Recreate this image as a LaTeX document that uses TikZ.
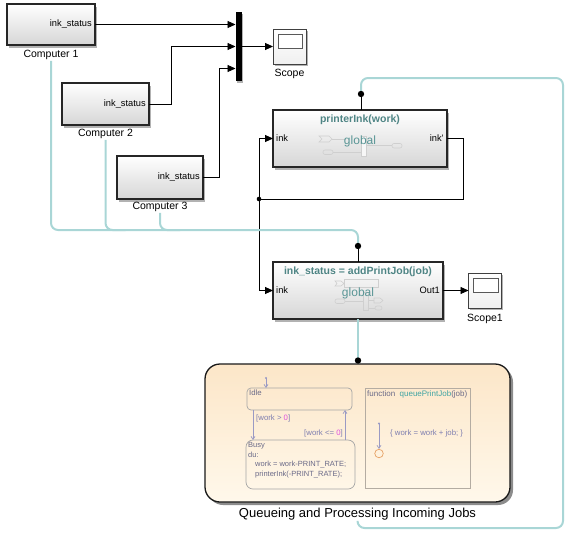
\documentclass[tikz,border=0pt]{standalone}
\usepackage{fontspec}
\setmainfont{Liberation Sans}
\usetikzlibrary{calc,shadows,arrows.meta}
\definecolor{tealline}{HTML}{A9D6D6}
\definecolor{titleteal}{HTML}{4F8585}
\definecolor{globteal}{HTML}{5A9696}
\definecolor{deco}{HTML}{CFCFCF}
\definecolor{stxt}{HTML}{6A6A88}
\definecolor{trlab}{HTML}{7E7EB0}
\definecolor{trans}{HTML}{9A9AC4}
\definecolor{magzero}{HTML}{E050E0}
\definecolor{stborder}{HTML}{A6A6A6}
\definecolor{fnborder}{HTML}{B4ACA2}
\definecolor{chtop}{HTML}{FCE6C8}
\definecolor{chbot}{HTML}{FFF8EB}
\definecolor{fnteal}{HTML}{3FA3A3}
\definecolor{juncol}{HTML}{E6A064}
\begin{document}
\begin{tikzpicture}[x=1pt,y=-1pt,
  block/.style={draw=black!85, line width=1.2pt, top color=white, bottom color=black!16,
    inner sep=0pt, outer sep=0pt,
    drop shadow={shadow xshift=2pt, shadow yshift=-2.5pt, opacity=0.3, fill=black}},
  scopebox/.style={draw=black!75, line width=0.8pt, top color=white, bottom color=black!6,
    inner sep=0pt, outer sep=0pt, minimum width=33pt, minimum height=35pt,
    drop shadow={shadow xshift=1.5pt, shadow yshift=-1.5pt, opacity=0.3, fill=black}},
  plab/.style={font=\fontsize{9.3}{11}\selectfont, inner sep=1pt},
  caplab/.style={font=\fontsize{10.5}{12}\selectfont, inner sep=1pt},
  ttl/.style={font=\fontsize{10.5}{12}\selectfont\bfseries, text=titleteal, inner sep=1pt},
  glob/.style={font=\fontsize{12}{14}\selectfont, text=globteal, inner sep=1pt},
  wire/.style={draw=black, line width=0.9pt},
  sig/.style={wire, -{Triangle[length=8pt,width=7pt]}},
  tl/.style={draw=tealline, line width=2pt, rounded corners=7pt},
  dotc/.style={fill=black},
  st/.style={draw=stborder, line width=0.7pt, inner sep=0pt, outer sep=0pt},
  stext/.style={font=\fontsize{7.8}{10}\selectfont, text=stxt, inner sep=1pt},
  trtext/.style={font=\fontsize{7.8}{10}\selectfont, text=trlab, inner sep=1pt},
  trarrow/.style={draw=trans, line width=0.7pt, -{Straight Barb[length=3pt,width=4pt]}},
  decol/.style={draw=deco, line width=0.6pt}
]
\useasboundingbox (0,0) rectangle (569,536);

% ---------------- computers
\node[block, minimum width=88pt, minimum height=41pt] (comp1) at (51,24.5) {};
\node[plab, anchor=east] (c1out) at ($(comp1.east)+(-2,0)$) {ink\_status};
\node[caplab] (c1lab) at (51,55) {Computer 1};
\node[block, minimum width=87pt, minimum height=42pt] (comp2) at (105.5,104) {};
\node[plab, anchor=east] (c2out) at ($(comp2.east)+(-2,0)$) {ink\_status};
\node[caplab] (c2lab) at (105.5,134) {Computer 2};
\node[block, minimum width=86pt, minimum height=43pt] (comp3) at (160,177.5) {};
\node[plab, anchor=east] (c3out) at ($(comp3.east)+(-2,0)$) {ink\_status};
\node[caplab] (c3lab) at (160,207) {Computer 3};

% ---------------- mux and scope
\node[fill=black, minimum width=6pt, minimum height=69pt, inner sep=0pt, outer sep=0pt,
  drop shadow={shadow xshift=1.5pt, shadow yshift=-1.5pt, opacity=0.3, fill=black}] (mux) at (238.5,46.5) {};
\coordinate (min1) at ($(mux.west)+(0,-22)$);
\coordinate (min3) at ($(mux.west)+(0,22)$);
\node[scopebox] (scope) at (289.5,46.5) {};
\draw[black!65, line width=1pt, fill=white] ($(scope.center)+(-11.5,-12.5)$) rectangle ($(scope.center)+(12.5,1.5)$);
\node[caplab] (scopelab) at (289.5,74) {Scope};

\draw[sig] (comp1.east) -- (comp1.east -| mux.west);
\draw[sig] (comp2.east) -- ++(22,0) |- (mux.west);
\draw[sig] (comp3.east) -- ++(16,0) |- (min3);
\draw[sig] (mux.east) -- (scope.west);

% ---------------- printerInk block
\node[block, minimum width=174pt, minimum height=57pt] (printer) at (360,138.5) {};
\begin{scope}
\draw[decol] (319,136) -- (329,136) -- (332,139) -- (329,142) -- (319,142) -- (322,139) -- cycle;
\draw[decol] (332,139) -- (346,139);
\draw[decol, fill=white!97!black] (361,136) rectangle (366,156);
\draw[decol, rounded corners=2pt] (323,150) rectangle (333,154.5);
\draw[decol] (333,152) -- (361,152);
\draw[decol] (366,145.5) -- (392,145.5);
\draw[decol, rounded corners=2pt] (392,143.5) rectangle (402,148);
\end{scope}
\node[ttl] (ptitle) at (360,120) {printerInk(work)};
\node[glob] (pglob) at (360,141) {global};
\node[plab, anchor=west] (pin) at ($(printer.west)+(2,0)$) {ink};
\node[plab, anchor=east] (pout) at ($(printer.east)+(-2,0)$) {ink'};

% ---------------- addPrintJob block
\node[block, minimum width=170pt, minimum height=57pt] (addjob) at (358,290.5) {};
\begin{scope}
\draw[decol] (335,281) -- (341,281) -- (344,283.5) -- (341,286) -- (335,286) -- (337,283.5) -- cycle;
\draw[decol] (344,279) rectangle (378,287);
\draw[decol, rounded corners=2pt] (335,299) rectangle (345,303.5);
\draw[decol] (345,301) -- (363,301);
\draw[decol] (363,292) rectangle (368,310);
\draw[decol] (368,300) -- (374,300);
\draw[decol] (374,298) -- (380,298) -- (383,300.5) -- (380,303) -- (374,303) -- cycle;
\draw[decol] (368,308) -- (375,308);
\draw[decol, rounded corners=2pt] (375,306) rectangle (382,310);
\end{scope}
\node[ttl] (atitle) at (358,272) {ink\_status = addPrintJob(job)};
\node[glob] (aglob) at (358,293.5) {global};
\node[plab, anchor=west] (ain) at ($(addjob.west)+(2,0)$) {ink};
\node[plab, anchor=east] (aout) at ($(addjob.east)+(-2,0)$) {Out1};

\node[scopebox] (scope1) at (485,290.5) {};
\draw[black!65, line width=1pt, fill=white] ($(scope1.center)+(-12,-12.5)$) rectangle ($(scope1.center)+(13,1.5)$);
\node[caplab] (scope1lab) at (485,319) {Scope1};
\draw[sig] (addjob.east) -- (scope1.west);

% ---------------- feedback wiring
\coordinate (fj) at (259,199);
\draw[wire] (printer.east) -- ++(16,0) |- (fj);
\draw[sig] (fj) |- (printer.west);
\draw[sig] (fj) |- (addjob.west);
\fill[dotc] (fj) circle (2.3pt);

% ---------------- chart
\node[draw=black!90, line width=1.3pt, rounded corners=15pt, top color=chtop, bottom color=chbot,
  minimum width=305pt, minimum height=138pt, inner sep=0pt, outer sep=0pt,
  drop shadow={shadow xshift=3pt, shadow yshift=-3pt, opacity=0.45, fill=black}] (chart) at (357.5,433) {};
\node[font=\fontsize{13}{15}\selectfont, inner sep=1pt] (qlab) at (357.5,514) {Queueing and Processing Incoming Jobs};

% states
\node[st, rounded corners=4pt, minimum width=105pt, minimum height=22pt] (idle) at (299.5,399) {};
\node[stext, anchor=north west] (idletxt) at ($(idle.north west)+(1,0.5)$) {Idle};
\node[st, rounded corners=7pt, minimum width=109pt, minimum height=49pt] (busy) at (300.5,464.5) {};
\node[stext, anchor=north west, align=left, font=\fontsize{7.5}{9.8}\selectfont] (busytxt) at ($(busy.north west)+(1,1)$)
  {Busy\\du:\\\hspace*{7pt}work = work-PRINT\_RATE;\\\hspace*{7pt}printerInk(-PRINT\_RATE);};

\coordinate (d1) at (266,378);
\fill[trans] (d1) circle (1.2pt);
\draw[trarrow] (d1) -- (d1 |- idle.north);
\coordinate (t1) at ($(idle.south west)+(6,0)$);
\draw[trarrow] (t1) -- (t1 |- busy.north);
\coordinate (t2) at ($(busy.north east)+(-10,0)$);
\draw[trarrow] (t2) -- (t2 |- idle.south);
\node[trtext, anchor=west] (g1) at (255,418) {[work > \textcolor{magzero}{0}]};
\node[trtext, anchor=east] (g2) at (344,433.5) {[work <= \textcolor{magzero}{0}]};

% graphical function
\node[draw=fnborder, line width=0.7pt, minimum width=105pt, minimum height=100pt, inner sep=0pt, outer sep=0pt] (fbox) at (417.5,438) {};
\node[stext, anchor=north west, font=\fontsize{8}{10}\selectfont] (ftitle) at ($(fbox.north west)+(1,1)$)
  {function\ \ \textcolor{fnteal}{queuePrintJob}(job)};
\node[circle, draw=juncol, line width=0.7pt, minimum size=8.5pt, inner sep=0pt] (jn) at (379,453.5) {};
\coordinate (d2) at (379,423.5);
\fill[trans] (d2) circle (1.2pt);
\draw[trarrow] (d2) -- (jn.north);
\node[trtext, anchor=west] (fact) at (389,433) {\{ work = work + job; \}};

% ---------------- teal connections
\coordinate (tbus) at (0,230);
\coordinate (adot) at ($(addjob.north)+(0,-16)$);
\coordinate (pdot) at ($(printer.north)+(1,-16)$);
\coordinate (cdot) at ($(chart.north)+(0.5,-3.5)$);
\coordinate (tr) at (563,78);
\coordinate (br) at (563,528);
\draw[tl] (c1lab.south) |- (adot |- tbus) -- (adot);
\draw[tl] (c2lab.south) |- ($(c2lab.south |- tbus)+(20,0)$);
\draw[tl] (c3lab.south) |- ($(c3lab.south |- tbus)+(20,0)$);
\draw[tl] (qlab.south) |- (br) -- (tr) -| (pdot);
\draw[tl, rounded corners=0pt] (addjob.south) -- (cdot);
\draw[wire] (pdot) -- (pdot |- printer.north);
\draw[wire] (adot) -- (adot |- addjob.north);
\fill[dotc] (pdot) circle (3.2pt);
\fill[dotc] (adot) circle (3.2pt);
\fill[dotc] (cdot) circle (3.2pt);
\end{tikzpicture}
\end{document}
